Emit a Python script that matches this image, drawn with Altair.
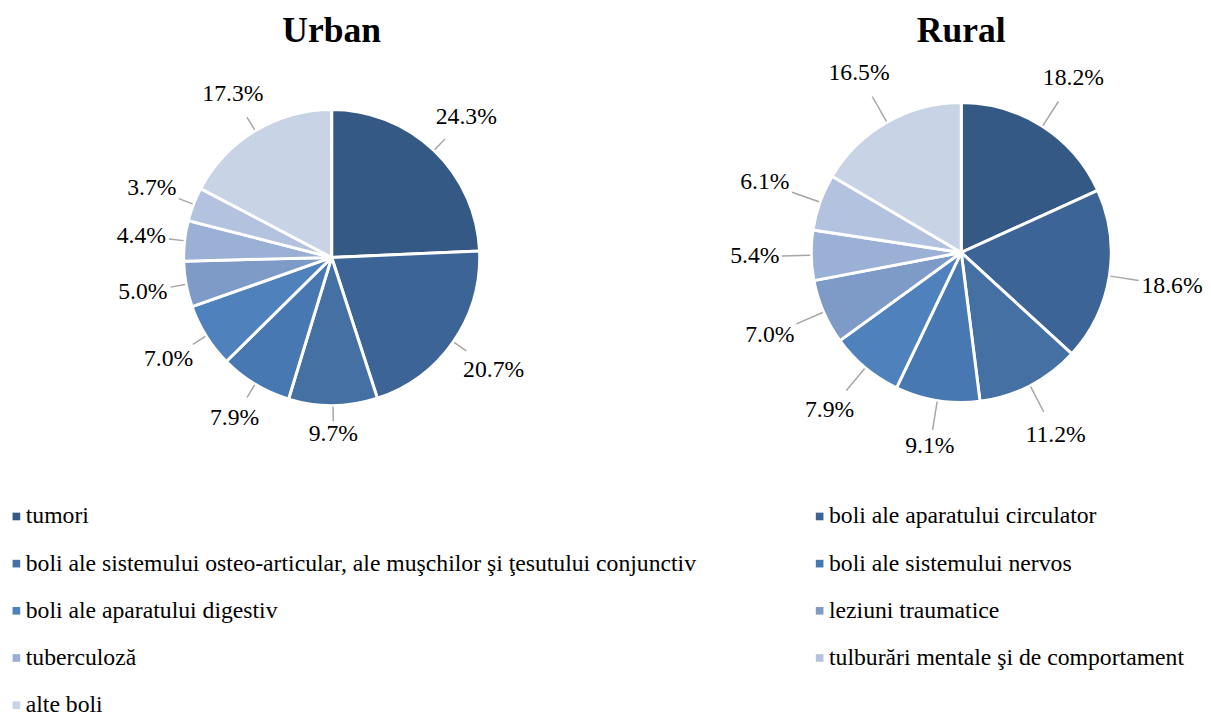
import altair as alt
import pandas as pd

categories = [
    "tumori",
    "boli ale aparatului circulator",
    "boli ale sistemului osteo-articular, ale muşchilor şi ţesutului conjunctiv",
    "boli ale sistemului nervos",
    "boli ale aparatului digestiv",
    "leziuni traumatice",
    "tuberculoză",
    "tulburări mentale şi de comportament",
    "alte boli",
]
urban_values = [24.3, 20.7, 9.7, 7.9, 7.0, 5.0, 4.4, 3.7, 17.3]
rural_values = [18.2, 18.6, 11.2, 9.1, 7.9, 7.0, 5.4, 6.1, 16.5]
colors = ["#355985", "#3C6496", "#4470A4", "#4778B1", "#4F81BD",
          "#7E9BC8", "#9BB0D5", "#B3C2DF", "#C9D3E6"]
panel_titles = ["Urban", "Rural"]

FONT = "Liberation Serif"
FS = 24
HH = 11      # half height of a label box

color_scale = alt.Scale(domain=categories, range=colors)


def pie(values, title, cx, cy, r, r0):
    df = pd.DataFrame({
        "cat": categories,
        "value": values,
        "idx": list(range(len(categories))),
        "label": [f"{v:.1f}%" for v in values],
    })
    arcs = alt.Chart(df).mark_arc(
        x=cx, y=cy, outerRadius=r, stroke="white", strokeWidth=3
    ).encode(
        theta=alt.Theta("value:Q", stack=True),
        order=alt.Order("idx:Q"),
        color=alt.Color("cat:N", scale=color_scale, legend=None),
    )
    geo = (
        alt.Chart(df)
        .transform_window(cum="sum(value)", sort=[alt.SortField("idx")],
                          frame=[None, 0])
        .transform_joinaggregate(total="sum(value)")
        .transform_calculate(
            a="2*PI*(datum.cum - datum.value/2)/datum.total",
            hw=f"{FS}*(0.5*(length(datum.label)-2)+1.083)/2",
        )
        .transform_calculate(s="sin(datum.a)", c="cos(datum.a)")
        .transform_calculate(
            d=f"{r0} + datum.hw*abs(datum.s) + {HH}*abs(datum.c)",
        )
        .transform_calculate(
            x1=f"{cx} + {r + 1}*datum.s",
            y1=f"{cy} - {r + 1}*datum.c",
            x2=f"{cx} + {r0 - 2}*datum.s",
            y2=f"{cy} - {r0 - 2}*datum.c",
            tx=f"{cx} + datum.d*datum.s",
            ty=f"{cy} - datum.d*datum.c",
        )
    )
    lines = geo.mark_rule(color="#A6A6A6", strokeWidth=1.5).encode(
        x=alt.X("x1:Q", scale=None),
        y=alt.Y("y1:Q", scale=None),
        x2="x2:Q",
        y2="y2:Q",
    )
    labels = geo.mark_text(font=FONT, fontSize=FS, color="black",
                           baseline="middle", align="center").encode(
        x=alt.X("tx:Q", scale=None),
        y=alt.Y("ty:Q", scale=None),
        text="label:N",
    )
    head = alt.Chart(pd.DataFrame({"t": [title]})).mark_text(
        x=cx, y=30, baseline="alphabetic", font=FONT, fontSize=36,
        fontWeight="bold", color="black"
    ).encode(text="t:N")
    return [arcs, lines, labels, head]


# legend: two columns, filled row by row
LX0, LCOL = 8.5, 814      # symbol centre of first column, column step
LY0, LROW = 510.5, 47.8   # centre of first row, row step
leg_df = pd.DataFrame({"cat": categories,
                       "idx": list(range(len(categories)))})
leg_base = alt.Chart(leg_df).transform_calculate(
    col="datum.idx % 2",
    row="floor(datum.idx / 2)",
).transform_calculate(
    lx=f"{LX0} + datum.col*{LCOL}",
    ly=f"{LY0} + datum.row*{LROW}",
).transform_calculate(
    tx="datum.lx + 9.5",
)
leg_sym = leg_base.mark_square(size=60, opacity=1).encode(
    x=alt.X("lx:Q", scale=None),
    y=alt.Y("ly:Q", scale=None),
    color=alt.Color("cat:N", scale=color_scale, legend=None),
)
leg_txt = leg_base.mark_text(align="left", baseline="middle", font=FONT,
                             fontSize=FS, color="black").encode(
    x=alt.X("tx:Q", scale=None),
    y=alt.Y("ly:Q", scale=None),
    text="cat:N",
)

layers = pie(urban_values, panel_titles[0], 328, 248, 150, 168) + \
    pie(rural_values, panel_titles[1], 966, 243, 152, 184) + \
    [leg_sym, leg_txt]

chart = alt.layer(*layers).properties(
    width=1195, height=694, padding=0,
).configure_view(stroke=None)

chart.save("out.html", embed_options={"renderer": "svg", "actions": False})
